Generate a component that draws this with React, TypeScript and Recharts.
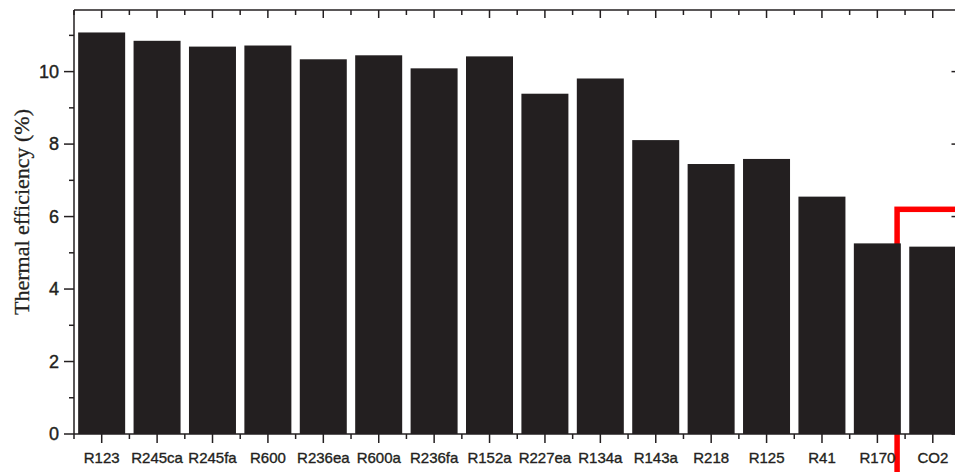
import { BarChart, Bar, Line, XAxis, YAxis, ReferenceArea, ReferenceLine, Label } from 'recharts';

// working fluids and their thermal efficiency (%)
const categories = ['R123', 'R245ca', 'R245fa', 'R600', 'R236ea', 'R600a', 'R236fa', 'R152a', 'R227ea', 'R134a', 'R143a', 'R218', 'R125', 'R41', 'R170', 'CO2'];
const efficiency = [11.08, 10.85, 10.69, 10.72, 10.34, 10.45, 10.09, 10.42, 9.39, 9.81, 8.11, 7.45, 7.59, 6.55, 5.26, 5.17];

const yMajor = [0, 2, 4, 6, 8, 10];
const yMinor = [1, 3, 5, 7, 9, 11];
const yMax = 11.7;
const highlighted = 'CO2';

const data = categories.map((name, i) => ({ name, value: efficiency[i] }));
const yTicks = [...yMajor, ...yMinor].sort((a, b) => a - b);

const INK = '#231f20';
const SANS = "'Liberation Sans', Arial, sans-serif";
const HALF_BAND = 27.7;
const MARGIN_TOP = 10;

const halfOf = (payload: any) => (payload && payload.offset > 0 ? payload.offset : HALF_BAND);

const BottomTick = (props: any) => {
    const { x, y, payload, index } = props;
    const half = halfOf(payload);
    return (
        <g>
            <line x1={x} x2={x} y1={y} y2={y + 9} stroke={INK} strokeWidth={1.5} />
            <line x1={x - half} x2={x - half} y1={y} y2={y + 5} stroke={INK} strokeWidth={1.5} />
            {index === categories.length - 1 && (
                <line x1={x + half} x2={x + half} y1={y} y2={y + 5} stroke={INK} strokeWidth={1.5} />
            )}
            <text x={x} y={y + 18} dy="0.71em" textAnchor="middle" fontSize={15} fill={INK} stroke={INK} strokeWidth={0.35} fontFamily={SANS}>
                {payload.value}
            </text>
        </g>
    );
};

// bar + the mirrored top frame ticks above it (pointing down)
const FramedBar = (props: any) => {
    const { x, y, width, height, background, fill } = props;
    const top = background && background.y != null ? background.y : MARGIN_TOP;
    const cx = x + width / 2;
    return (
        <g>
            <rect x={x} y={y} width={width} height={height} fill={fill} />
            <line x1={cx} x2={cx} y1={top} y2={top + 8} stroke={INK} strokeWidth={1.5} />
            <line x1={cx - HALF_BAND} x2={cx - HALF_BAND} y1={top} y2={top + 5} stroke={INK} strokeWidth={1.5} />
        </g>
    );
};

const LeftTick = (props: any) => {
    const { x, y, payload } = props;
    const major = yMajor.includes(payload.value);
    return (
        <g>
            <line x1={x - (major ? 10 : 5)} x2={x} y1={y} y2={y} stroke={INK} strokeWidth={1.5} />
            {major && (
                <text x={x - 15} y={y} dy="0.355em" textAnchor="end" fontSize={18} fill={INK} stroke={INK} strokeWidth={0.4} fontFamily={SANS}>
                    {payload.value}
                </text>
            )}
        </g>
    );
};

const RightTick = (props: any) => {
    const { x, y, payload } = props;
    const major = yMajor.includes(payload.value);
    return <line x1={x - (major ? 9 : 5)} x2={x} y1={y} y2={y} stroke={INK} strokeWidth={1.5} />;
};

const axisLine = { stroke: INK, strokeWidth: 1.5 };

export default function App() {
    return (
        <div style={{ position: 'absolute', left: 0, top: 0, width: 955, height: 472, overflow: 'hidden', background: '#fff' }}>
            <BarChart width={1000} height={472} data={data} margin={{ top: MARGIN_TOP, right: 38.5, bottom: 0, left: 0 }} barCategoryGap="7.5%">
                <XAxis dataKey="name" type="category" height={38} tickSize={0} tickMargin={0} tickLine={false} tick={<BottomTick />} interval={0} axisLine={axisLine} />
                <YAxis type="number" domain={[0, yMax]} ticks={yTicks} width={74} tickSize={0} tickMargin={0} tickLine={false} tick={<LeftTick />} interval={0} axisLine={axisLine}>
                    <Label
                        content={() => (
                            <text x={21} y={212} transform="rotate(-90 21 212)" textAnchor="middle" dominantBaseline="central" fontSize={22} fill={INK} stroke={INK} strokeWidth={0.3} fontFamily="'Liberation Serif', 'Times New Roman', serif">
                                Thermal efficiency (%)
                            </text>
                        )}
                    />
                </YAxis>
                <YAxis yAxisId="right" type="number" orientation="right" domain={[0, yMax]} allowDataOverflow ticks={yTicks} width={1} tickSize={0} tickMargin={0} tickLine={false} tick={<RightTick />} interval={0} axisLine={axisLine} />
                <ReferenceLine y={yMax} stroke={INK} strokeWidth={1.5} ifOverflow="visible" />
                <Bar dataKey="value" fill={INK} shape={<FramedBar />} isAnimationActive={false} />
                {/* invisible series so the right frame axis gets a scale */}
                <Line yAxisId="right" dataKey="value" stroke="none" dot={false} activeDot={false} legendType="none" isAnimationActive={false} />
                <ReferenceArea
                    x1={highlighted}
                    x2={highlighted}
                    y1={6.2}
                    y2={-2}
                    ifOverflow="visible"
                    shape={(p: any) => (
                        <rect x={p.x - 8} y={p.y} width={p.width + 100} height={p.height} fill="none" stroke="#ff0000" strokeWidth={5.5} />
                    )}
                />
            </BarChart>
        </div>
    );
}
